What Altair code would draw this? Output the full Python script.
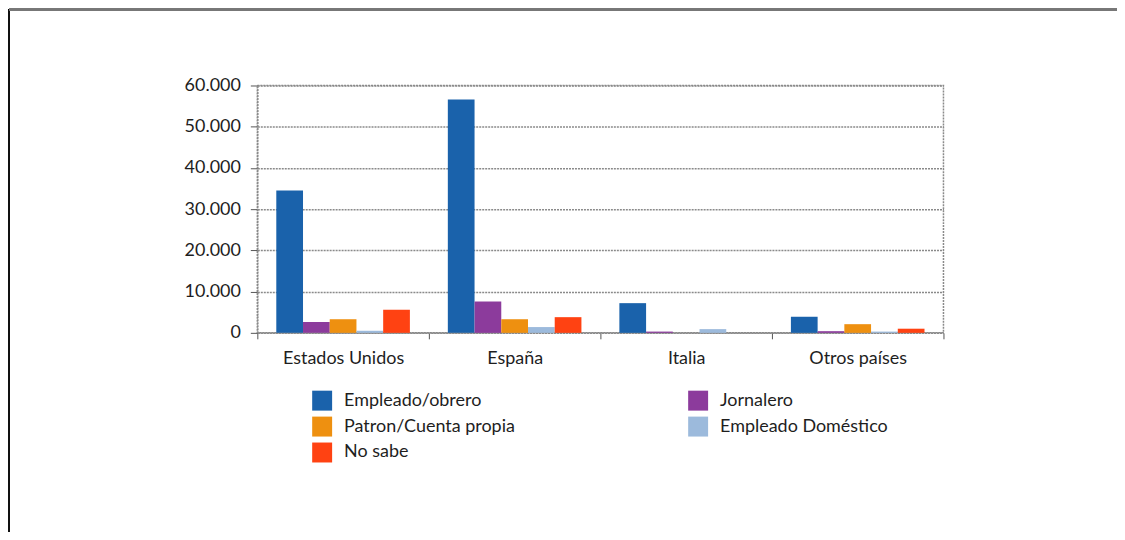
import altair as alt
import pandas as pd

paises = ["Estados Unidos", "España", "Italia", "Otros países"]
categorias = ["Empleado/obrero", "Jornalero", "Patron/Cuenta propia",
              "Empleado Doméstico", "No sabe"]
empleado_obrero = [34500, 56600, 7200, 3900]
jornalero = [2600, 7600, 300, 400]
patron = [3300, 3300, 0, 2100]
empleado_domestico = [500, 1400, 900, 300]
no_sabe = [5600, 3800, 0, 1000]
colores = ["#1a62ab", "#8c3b9c", "#ee9010", "#9cbadc", "#ff4212"]
y_ticks = [0, 10000, 20000, 30000, 40000, 50000, 60000]

series = [empleado_obrero, jornalero, patron, empleado_domestico, no_sabe]
rows = []
for cat, vals in zip(categorias, series):
    for p, v in zip(paises, vals):
        rows.append({"pais": p, "categoria": cat, "valor": v})
df = pd.DataFrame(rows)

# legend fills column by column: order the legend so rows read as in the original
orden_leyenda = [0, 2, 4, 1, 3]
dom_leyenda = [categorias[i] for i in orden_leyenda]
col_leyenda = [colores[i] for i in orden_leyenda]

FONT = "Lato"
FS = 18
TXT = "#1e1e1e"
GRID = "#8a8a8a"

bars = alt.Chart(df).mark_bar(stroke=None).encode(
    x=alt.X("pais:N", sort=paises, title=None,
            scale=alt.Scale(paddingInner=0, paddingOuter=0),
            axis=alt.Axis(labelAngle=0, tickBand="extent", tickSize=6,
                          labelPadding=11, labelFontSize=FS, labelFont=FONT,
                          labelColor=TXT, domainColor=GRID, domainDash=[2, 1],
                          domainWidth=1.5, tickColor="#555", grid=False)),
    xOffset=alt.XOffset("categoria:N", sort=categorias,
                        scale=alt.Scale(paddingInner=0, paddingOuter=0.71)),
    y=alt.Y("valor:Q", title=None,
            scale=alt.Scale(domain=[0, 60000], nice=False),
            axis=alt.Axis(values=y_ticks, tickSize=7, labelPadding=10,
                          labelFontSize=FS, labelFont=FONT, labelColor=TXT,
                          labelExpr="replace(format(datum.value, ','), ',', '.')",
                          domainColor=GRID, domainDash=[2, 1], domainWidth=1.5,
                          tickColor="#555", gridColor=GRID, gridDash=[2, 1],
                          gridWidth=1.5)),
    color=alt.Color("categoria:N", title=None,
                    scale=alt.Scale(domain=dom_leyenda, range=col_leyenda),
                    legend=alt.Legend(orient="none", legendX=55, legendY=306,
                                      columns=2, columnPadding=173,
                                      rowPadding=6, symbolType="square",
                                      symbolSize=400, symbolStrokeWidth=0,
                                      labelFontSize=FS, labelFont=FONT,
                                      labelColor=TXT, labelOffset=12,
                                      labelLimit=400)),
)

left_line = alt.Chart(df).mark_rule(color="#111", strokeWidth=2).encode(
    x=alt.value(-249), y=alt.value(-76), y2=alt.value(450))
top_line = alt.Chart(df).mark_rule(color="#777", strokeWidth=2).encode(
    x=alt.value(-249), x2=alt.value(864), y=alt.value(-76))
right_line = alt.Chart(df).mark_rule(color="#999", strokeWidth=2).encode(
    x=alt.value(864), y=alt.value(-76), y2=alt.value(450))

chart = alt.layer(bars, left_line, top_line, right_line).properties(
    width=688, height=248,
    padding={"left": 250, "top": 77, "right": 174, "bottom": 199},
    autosize=alt.AutoSizeParams(type="none"),
).configure_view(stroke=GRID, strokeDash=[2, 1], strokeWidth=1.5)

chart.save("out.html", embed_options={"renderer": "svg", "actions": False})
